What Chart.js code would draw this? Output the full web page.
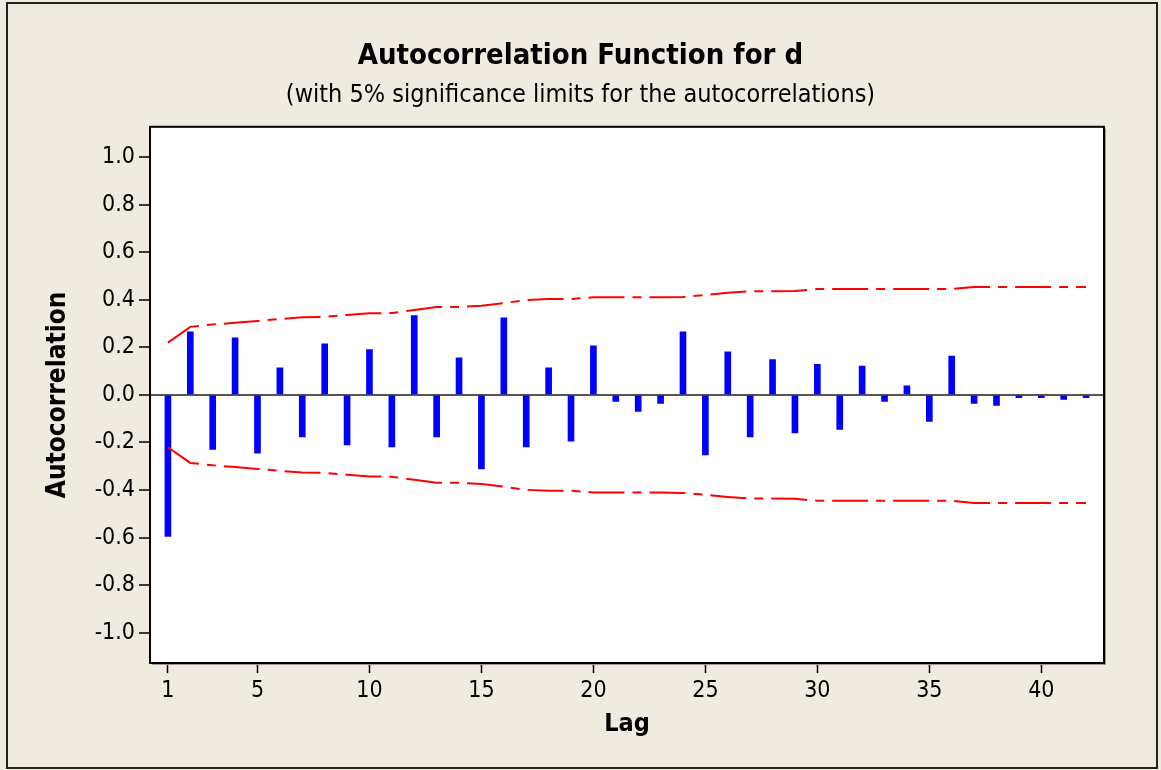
<!DOCTYPE html>
<html>
<head>
<meta charset="utf-8">
<script src="https://cdn.jsdelivr.net/npm/chart.js@4"></script>
<style>
  html, body { margin: 0; padding: 0; background: #efebe1; }
  canvas { display: block; }
</style>
</head>
<body>
<canvas id="acfChart" width="1161" height="770"></canvas>
<script>
// lags 1..42
const lags = Array.from({ length: 42 }, (_, i) => i + 1);

// autocorrelations
const acf = [
  -0.595, 0.265, -0.229, 0.240, -0.245, 0.114, -0.177, 0.215, -0.210, 0.190,
  -0.219, 0.333, -0.177, 0.156, -0.311, 0.324, -0.219, 0.114, -0.195, 0.206,
  -0.027, -0.069, -0.036, 0.265, -0.252, 0.181, -0.177, 0.148, -0.160, 0.129,
  -0.145, 0.121, -0.027, 0.038, -0.111, 0.163, -0.036, -0.044, -0.012, -0.012,
  -0.019, -0.012
];

// 5% significance limits (upper, lower is the negative)
const limits = [
  0.220, 0.286, 0.296, 0.303, 0.311, 0.319, 0.326, 0.328, 0.336, 0.343,
  0.344, 0.357, 0.369, 0.369, 0.375, 0.386, 0.399, 0.403, 0.403, 0.410,
  0.410, 0.410, 0.410, 0.412, 0.420, 0.429, 0.436, 0.436, 0.437, 0.445,
  0.445, 0.445, 0.445, 0.445, 0.445, 0.445, 0.454, 0.454, 0.454, 0.454,
  0.454, 0.454
];

const xTicks = [1, 5, 10, 15, 20, 25, 30, 35, 40];
const yTicks = [-1.0, -0.8, -0.6, -0.4, -0.2, 0.0, 0.2, 0.4, 0.6, 0.8, 1.0];

const FONT = "'DejaVu Sans Condensed', 'DejaVu Sans', sans-serif";
Chart.defaults.font.family = FONT;
Chart.defaults.color = '#000';

// beige frame, white plot area, box around it
const framePlugin = {
  id: 'frame',
  beforeDraw(chart) {
    const { ctx, chartArea: a } = chart;
    ctx.save();
    ctx.fillStyle = '#efebe1';
    ctx.fillRect(0, 0, chart.width, chart.height);
    ctx.strokeStyle = '#222';
    ctx.lineWidth = 2;
    ctx.strokeRect(7, 3, 1150, 765);
    ctx.fillStyle = '#fff';
    ctx.fillRect(a.left, a.top, a.right - a.left, a.bottom - a.top);
    ctx.restore();
  },
  afterDraw(chart) {
    const { ctx, chartArea: a } = chart;
    ctx.save();
    ctx.strokeStyle = '#999';
    ctx.lineWidth = 1;
    ctx.beginPath();
    ctx.moveTo(a.right + 1.5, a.top + 2);
    ctx.lineTo(a.right + 1.5, a.bottom + 1.5);
    ctx.lineTo(a.left + 2, a.bottom + 1.5);
    ctx.stroke();
    ctx.strokeStyle = '#000';
    ctx.lineWidth = 2;
    ctx.strokeRect(a.left, a.top, a.right - a.left, a.bottom - a.top);
    ctx.restore();
  }
};

const ctx = document.getElementById('acfChart').getContext('2d');

new Chart(ctx, {
  data: {
    datasets: [
      {
        type: 'bar',
        label: 'ACF',
        data: lags.map((l, i) => ({ x: l, y: acf[i] })),
        backgroundColor: '#0000ff',
        borderWidth: 0,
        barThickness: 6,
        order: 2
      },
      {
        type: 'line',
        label: 'Upper limit',
        data: lags.map((l, i) => ({ x: l, y: limits[i] })),
        borderColor: '#ff0000',
        borderWidth: 2,
        borderDash: [36, 8, 9, 8],
        pointRadius: 0,
        tension: 0,
        fill: false,
        order: 1
      },
      {
        type: 'line',
        label: 'Lower limit',
        data: lags.map((l, i) => ({ x: l, y: -limits[i] })),
        borderColor: '#ff0000',
        borderWidth: 2,
        borderDash: [36, 8, 9, 8],
        pointRadius: 0,
        tension: 0,
        fill: false,
        order: 1
      }
    ]
  },
  options: {
    responsive: false,
    animation: false,
    layout: { padding: 0 },
    plugins: {
      legend: { display: false },
      tooltip: { enabled: false },
      title: {
        display: true,
        text: 'Autocorrelation Function for d',
        font: { size: 29, weight: 'bold', lineHeight: 1.2 },
        color: '#000',
        padding: { top: 39, bottom: 0 }
      },
      subtitle: {
        display: true,
        text: '(with 5% significance limits for the autocorrelations)',
        font: { size: 25, lineHeight: 1.2 },
        color: '#000',
        padding: { top: 7, bottom: 16 }
      }
    },
    scales: {
      x: {
        type: 'linear',
        min: 0.2,
        max: 42.8,
        offset: false,
        afterBuildTicks: s => { s.ticks = xTicks.map(v => ({ value: v })); },
        afterFit: s => { s.height = 107; },
        ticks: {
          font: { size: 23, lineHeight: 1.2 },
          color: '#000',
          padding: 4,
          maxRotation: 0,
          autoSkip: false,
          callback: v => String(v)
        },
        grid: {
          offset: false,
          drawOnChartArea: false,
          drawTicks: true,
          tickLength: 10,
          tickColor: '#000',
          tickWidth: 1.5
        },
        border: { display: false },
        title: {
          display: true,
          text: 'Lag',
          font: { size: 25, weight: 'bold', lineHeight: 1.2 },
          color: '#000',
          padding: { top: 0, bottom: 31 }
        }
      },
      y: {
        min: -1.127,
        max: 1.127,
        afterBuildTicks: s => { s.ticks = yTicks.map(v => ({ value: v })); },
        afterFit: s => { s.width = 150; },
        ticks: {
          font: { size: 23, lineHeight: 1.2 },
          color: '#000',
          padding: 4,
          callback: v => v.toFixed(1)
        },
        grid: {
          drawOnChartArea: true,
          drawTicks: true,
          tickLength: 11,
          tickColor: '#000',
          tickWidth: 1.5,
          lineWidth: c => (c.tick && Math.abs(c.tick.value) < 1e-9 ? 2 : 0),
          color: c => (c.tick && Math.abs(c.tick.value) < 1e-9 ? '#555' : 'rgba(0,0,0,0)')
        },
        border: { display: false },
        title: {
          display: true,
          text: 'Autocorrelation',
          font: { size: 26, weight: 'bold', lineHeight: 1.2 },
          color: '#000',
          padding: { top: 43, bottom: 0 }
        }
      },
      // empty right-hand margin so titles centre over the whole frame
      yRight: {
        type: 'linear',
        position: 'right',
        afterFit: s => { s.width = 57; },
        ticks: { display: false },
        grid: { display: false },
        border: { display: false }
      }
    }
  },
  plugins: [framePlugin]
});
</script>
</body>
</html>
